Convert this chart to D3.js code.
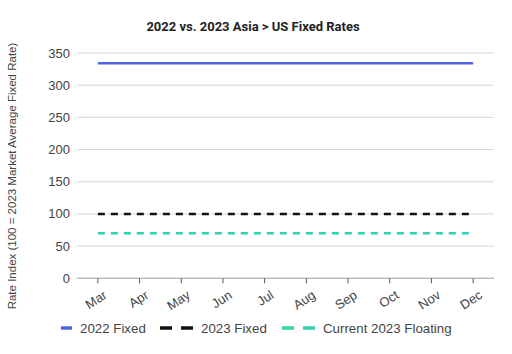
<!DOCTYPE html>
<html><head><meta charset="utf-8">
<script src="https://cdn.jsdelivr.net/npm/d3@7"></script>
<style>body{margin:0;background:#fff}svg{display:block}</style>
</head><body>
<svg id="c" width="512" height="354"></svg>
<script>
const months = ["Mar","Apr","May","Jun","Jul","Aug","Sep","Oct","Nov","Dec"];
const fixed2022 = [334,334,334,334,334,334,334,334,334,334];
const fixed2023 = [100,100,100,100,100,100,100,100,100,100];
const floating2023 = [70,70,70,70,70,70,70,70,70,70];
const yTicks = [0,50,100,150,200,250,300,350];
const seriesNames = ["2022 Fixed","2023 Fixed","Current 2023 Floating"];

const series = [
  {name: seriesNames[0], values: fixed2022, color: "#4f63e0", dash: null},
  {name: seriesNames[1], values: fixed2023, color: "#111111", dash: "7,6"},
  {name: seriesNames[2], values: floating2023, color: "#2fd3b2", dash: "7,6"}
];

const svg = d3.select("#c");
const font = "'Liberation Sans', Arial, sans-serif";
const m = {left: 77, right: 494, top: 53, bottom: 278.3};

const x = d3.scalePoint().domain(months).range([m.left, m.right]).padding(0.5);
const y = d3.scaleLinear().domain([0,350]).range([m.bottom, m.top]);

// gridlines
svg.append("g").selectAll("line").data(yTicks).join("line")
  .attr("x1", m.left).attr("x2", m.right)
  .attr("y1", d => y(d)).attr("y2", d => y(d))
  .attr("stroke", d => d === 0 ? "#bdbdbd" : "#d6d6d6").attr("stroke-width", d => d===0?1.5:1);

// y labels
svg.append("g").selectAll("text").data(yTicks).join("text")
  .attr("x", m.left - 7).attr("y", d => y(d)).attr("dy", "0.35em")
  .attr("text-anchor", "end").attr("font-family", font).attr("font-size", 13)
  .attr("fill", "#444").text(d => d);

// x ticks
svg.append("g").selectAll("line").data(months).join("line")
  .attr("x1", d => x(d)).attr("x2", d => x(d))
  .attr("y1", m.bottom).attr("y2", m.bottom + 5)
  .attr("stroke", "#555").attr("stroke-width", 1);

svg.append("g").selectAll("text").data(months).join("text")
  .attr("transform", d => `translate(${x(d)+10},${m.bottom+19}) rotate(-33)`)
  .attr("text-anchor", "end").attr("font-family", font).attr("font-size", 13)
  .attr("fill", "#444").text(d => d);

// lines
const line = d3.line().x((d,i) => x(months[i])).y(d => y(d));
svg.append("g").selectAll("path").data(series).join("path")
  .attr("d", d => line(d.values)).attr("fill", "none")
  .attr("stroke", d => d.color).attr("stroke-width", 2.5)
  .attr("stroke-dasharray", d => d.dash);

// title
svg.append("text").attr("x", 253).attr("y", 31).attr("text-anchor", "middle")
  .attr("font-family", "Roboto, 'Liberation Sans', Arial, sans-serif").attr("font-size", 13)
  .attr("font-weight", "bold").attr("fill", "#222")
  .text("2022 vs. 2023 Asia > US Fixed Rates");

// y axis title
svg.append("text").attr("transform", "translate(16,176) rotate(-90)")
  .attr("text-anchor", "middle").attr("font-family", font).attr("font-size", 11.5)
  .attr("fill", "#444").text("Rate Index (100 = 2023 Market Average Fixed Rate)");

// legend
const lg = svg.append("g");
const legendX = [61, 160, 282];
const textX = [80, 201, 323];
const ly = 328;
series.forEach((s, i) => {
  if (!s.dash) {
    lg.append("line").attr("x1", legendX[i]).attr("x2", legendX[i] + 11)
      .attr("y1", ly).attr("y2", ly).attr("stroke", s.color).attr("stroke-width", 3.5);
  } else {
    [0, 21].forEach(o => lg.append("line").attr("x1", legendX[i] + o).attr("x2", legendX[i] + o + 12)
      .attr("y1", ly).attr("y2", ly).attr("stroke", s.color).attr("stroke-width", 3.5));
  }
  lg.append("text").attr("x", textX[i]).attr("y", ly).attr("dy", "0.35em")
    .attr("font-family", font).attr("font-size", 13.3).attr("fill", "#444").text(s.name);
});
</script>
</body></html>
